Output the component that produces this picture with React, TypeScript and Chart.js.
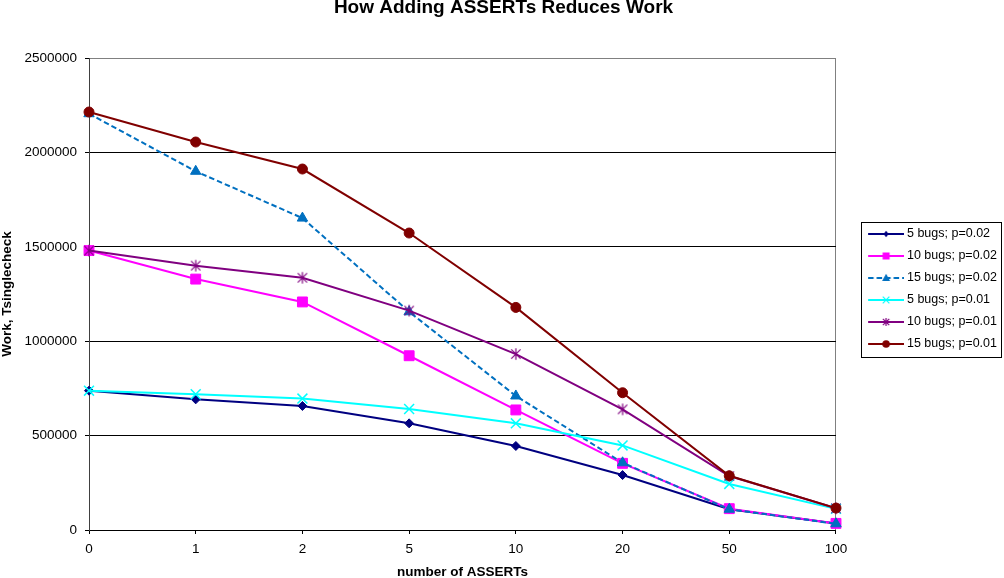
import React, { useEffect, useRef } from 'react';
import { Chart, registerables } from 'chart.js';

Chart.register(...registerables);

// ---------- data ----------
const CATEGORIES = ['0', '1', '2', '5', '10', '20', '50', '100'];
const SERIES_LABELS = [
  '5 bugs; p=0.02',
  '10 bugs; p=0.02',
  '15 bugs; p=0.02',
  '5 bugs; p=0.01',
  '10 bugs; p=0.01',
  '15 bugs; p=0.01',
];
const BUGS5_P002 = [738000, 692000, 657000, 565000, 445000, 291000, 110000, 35000];
const BUGS10_P002 = [1480000, 1329000, 1208000, 923000, 636000, 353000, 113000, 35000];
const BUGS15_P002 = [2205000, 1900000, 1652000, 1156000, 710000, 356000, 110000, 33000];
const BUGS5_P001 = [738000, 719000, 696000, 641000, 565000, 448000, 244000, 112000];
const BUGS10_P001 = [1480000, 1400000, 1336000, 1162000, 932000, 639000, 286000, 115000];
const BUGS15_P001 = [2214000, 2055000, 1912000, 1573000, 1179000, 727000, 287000, 116000];
const Y_MIN = 0;
const Y_MAX = 2500000;
const Y_STEP = 500000;
const TITLE = 'How Adding ASSERTs Reduces Work';
const X_TITLE = 'number of ASSERTs';
const Y_TITLE = 'Work, Tsinglecheck';

// ---------- styles ----------
const FONT = "'Liberation Sans', Arial, sans-serif";
type Kind = 'diamond' | 'square' | 'triangle' | 'x' | 'star' | 'circle';
const STYLES: { color: string; kind: Kind; dash: number[] }[] = [
  { color: '#000080', kind: 'diamond', dash: [] },
  { color: '#FF00FF', kind: 'square', dash: [] },
  { color: '#0070C0', kind: 'triangle', dash: [5.5, 3] },
  { color: '#00FFFF', kind: 'x', dash: [] },
  { color: '#800080', kind: 'star', dash: [] },
  { color: '#800000', kind: 'circle', dash: [] },
];

function drawMarker(ctx: CanvasRenderingContext2D, kind: Kind, x: number, y: number, r: number, color: string, lw = 1.3) {
  ctx.save();
  ctx.fillStyle = color;
  ctx.strokeStyle = color;
  ctx.lineWidth = lw;
  ctx.setLineDash([]);
  ctx.beginPath();
  switch (kind) {
    case 'diamond':
      ctx.moveTo(x, y - r);
      ctx.lineTo(x + r * 0.8, y);
      ctx.lineTo(x, y + r);
      ctx.lineTo(x - r * 0.8, y);
      ctx.closePath();
      ctx.fill();
      break;
    case 'square':
      ctx.rect(x - r, y - r, 2 * r, 2 * r);
      ctx.fill();
      break;
    case 'triangle':
      ctx.moveTo(x, y - r);
      ctx.lineTo(x + r * 0.95, y + r * 0.7);
      ctx.lineTo(x - r * 0.95, y + r * 0.7);
      ctx.closePath();
      ctx.fill();
      break;
    case 'x':
      ctx.moveTo(x - r, y - r);
      ctx.lineTo(x + r, y + r);
      ctx.moveTo(x + r, y - r);
      ctx.lineTo(x - r, y + r);
      ctx.stroke();
      break;
    case 'star':
      ctx.moveTo(x - r * 0.8, y - r * 0.8);
      ctx.lineTo(x + r * 0.8, y + r * 0.8);
      ctx.moveTo(x + r * 0.8, y - r * 0.8);
      ctx.lineTo(x - r * 0.8, y + r * 0.8);
      ctx.moveTo(x, y - r);
      ctx.lineTo(x, y + r);
      ctx.stroke();
      break;
    case 'circle':
      ctx.arc(x, y, r, 0, Math.PI * 2);
      ctx.fill();
      break;
  }
  ctx.restore();
}

function makeStarImage(color: string) {
  const c = document.createElement('canvas');
  c.width = 14;
  c.height = 14;
  const ctx = c.getContext('2d')!;
  drawMarker(ctx, 'star', 7, 7, 5.8, color, 1.2);
  return c;
}

// legend image: blank on the left, then line with marker in the middle
const LEG_IMG_W = 62;
const LEG_IMG_H = 16;
const LEG_LINE_START = 26;
function makeLegendImage(idx: number) {
  const st = STYLES[idx];
  const c = document.createElement('canvas');
  c.width = LEG_IMG_W;
  c.height = LEG_IMG_H;
  const ctx = c.getContext('2d')!;
  const cy = LEG_IMG_H / 2;
  ctx.strokeStyle = st.color;
  ctx.lineWidth = 2;
  ctx.setLineDash(st.dash);
  ctx.beginPath();
  ctx.moveTo(LEG_LINE_START, cy);
  ctx.lineTo(LEG_IMG_W, cy);
  ctx.stroke();
  const mx = (LEG_LINE_START + LEG_IMG_W) / 2;
  const sizes: Record<Kind, number> = { diamond: 3.2, square: 3.5, triangle: 4.2, x: 3.3, star: 4, circle: 3.8 };
  drawMarker(ctx, st.kind, mx, cy, sizes[st.kind], st.color, 1.2);
  return c;
}

const legendBorder = {
  id: 'legendBorder',
  afterDraw(chart: any) {
    const lg = chart.legend;
    if (!lg || !lg.legendHitBoxes || !lg.legendHitBoxes.length) return;
    const hb = lg.legendHitBoxes;
    const first = hb[0];
    const last = hb[hb.length - 1];
    let right = 0;
    hb.forEach((h: any) => { right = Math.max(right, h.left + h.width); });
    const left = first.left + 15.5;
    const top = first.top - 6;
    const bottom = last.top + last.height + 6;
    const ctx = chart.ctx;
    ctx.save();
    ctx.strokeStyle = '#000';
    ctx.lineWidth = 1;
    ctx.strokeRect(Math.round(left) + 0.5, Math.round(top) + 0.5, Math.round(right + 4 - left), Math.round(bottom - top));
    ctx.restore();
  },
};

export default function App() {
  const ref = useRef<HTMLCanvasElement | null>(null);

  useEffect(() => {
    if (!ref.current) return;
    const seriesData = [BUGS5_P002, BUGS10_P002, BUGS15_P002, BUGS5_P001, BUGS10_P001, BUGS15_P001];
    const legendImages = STYLES.map((_, i) => makeLegendImage(i));
    const starImg = makeStarImage(STYLES[4].color);
    const radius: Record<Kind, number> = { diamond: 4.5, square: 7, triangle: 6, x: 7, star: 6, circle: 5 };
    const pstyle: Record<Kind, any> = {
      diamond: 'rectRot',
      square: 'rect',
      triangle: 'triangle',
      x: 'crossRot',
      star: starImg,
      circle: 'circle',
    };

    const datasets = seriesData.map((d, i) => {
      const st = STYLES[i];
      return {
        label: SERIES_LABELS[i],
        data: d,
        borderColor: st.color,
        backgroundColor: st.color,
        borderWidth: 2,
        borderDash: st.dash,
        tension: 0,
        pointStyle: pstyle[st.kind],
        pointRadius: radius[st.kind],
        pointBorderWidth: st.kind === 'x' ? 1.5 : 1,
        pointBorderColor: st.color,
        pointBackgroundColor: st.color,
        order: seriesData.length - 1 - i,
        clip: false as any,
      };
    });

    const chart = new Chart(ref.current, {
      type: 'line',
      data: { labels: CATEGORIES, datasets },
      plugins: [legendBorder],
      options: {
        responsive: false,
        animation: false,
        layout: { padding: { left: 0, right: -3, top: 0, bottom: 0 } },
        plugins: {
          title: {
            display: true,
            text: TITLE,
            color: '#000',
            font: { family: FONT, size: 19, weight: 'bold', lineHeight: 0.79 },
            padding: { top: 0, bottom: 43 },
          },
          legend: {
            position: 'right',
            align: 'center',
            labels: {
              usePointStyle: true,
              pointStyleWidth: 55.25,
              boxHeight: 12.5,
              padding: 9.5,
              color: '#000',
              font: { family: FONT, size: 12.5 },
              generateLabels: (chart: any) => {
                const items = (Chart.defaults as any).plugins.legend.labels.generateLabels(chart);
                return items.map((it: any) => ({ ...it, pointStyle: legendImages[it.datasetIndex], fontColor: '#000' }));
              },
              sort: (a: any, b: any) => a.datasetIndex - b.datasetIndex,
            },
          },
          tooltip: { enabled: false },
        },
        scales: {
          x: {
            type: 'category',
            offset: false,
            grid: {
              display: true,
              drawOnChartArea: true,
              color: (ctx: any) => (ctx.index === CATEGORIES.length - 1 ? '#808080' : 'rgba(0,0,0,0)'),
              tickColor: '#000',
              tickLength: 4,
              lineWidth: 1,
            },
            border: { color: '#000', width: 1 },
            ticks: {
              color: '#000',
              font: { family: FONT, size: 13.5 },
              padding: 7,
              maxRotation: 0,
              autoSkip: false,
            },
            title: {
              display: true,
              text: X_TITLE,
              color: '#000',
              font: { family: FONT, size: 13.5, weight: 'bold', lineHeight: 0.9 },
              padding: { top: 0, bottom: 0 },
            },
            afterFit: (s: any) => { s.height = 48; },
          },
          y: {
            min: Y_MIN,
            max: Y_MAX,
            ticks: {
              stepSize: Y_STEP,
              color: '#000',
              font: { family: FONT, size: 13.5 },
              padding: 8,
              callback: (v: any) => String(v),
            },
            grid: {
              color: (ctx: any) => (ctx.tick && ctx.tick.value === Y_MAX ? '#808080' : '#000'),
              tickColor: '#000',
              tickLength: 4,
              lineWidth: 1,
            },
            border: { color: '#404040', width: 1 },
            title: {
              display: true,
              text: Y_TITLE,
              color: '#000',
              font: { family: FONT, size: 13.5, weight: 'bold', lineHeight: 1.1 },
              padding: { top: 0, bottom: 0 },
            },
            afterFit: (s: any) => { s.width = 89; },
          },
        },
      } as any,
    });
    return () => chart.destroy();
  }, []);

  return (
    <div style={{ position: 'fixed', left: 0, top: 0, width: 1004, height: 578, background: '#fff' }}>
      <canvas ref={ref} width={1004} height={578} style={{ display: 'block', width: 1004, height: 578 }} />
    </div>
  );
}
